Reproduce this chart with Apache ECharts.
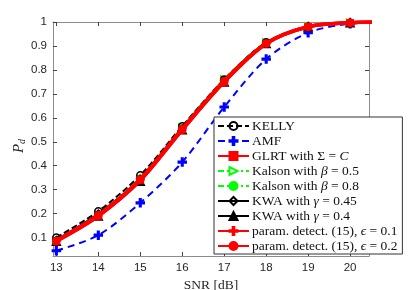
<!DOCTYPE html>
<html><head><meta charset="utf-8">
<script src="https://cdn.jsdelivr.net/npm/echarts@6/dist/echarts.min.js"></script>
<style>html,body{margin:0;padding:0;background:#fff}#c{width:409px;height:290px}</style>
</head><body><div id="c"></div>
<script>
var snr = [13, 14, 15, 16, 17, 18, 19, 20, 21];
var xTicks = [13, 14, 15, 16, 17, 18, 19, 20];
var yTicks = [0.1, 0.2, 0.3, 0.4, 0.5, 0.6, 0.7, 0.8, 0.9, 1];
var kelly   = [0.100, 0.210, 0.360, 0.565, 0.760, 0.915, 0.980, 0.997, 1.0];
var amf     = [0.045, 0.110, 0.245, 0.415, 0.645, 0.845, 0.955, 0.993, 1.0];
var glrt    = [0.085, 0.190, 0.340, 0.550, 0.750, 0.910, 0.980, 0.997, 1.0];
var kalson5 = [0.085, 0.195, 0.345, 0.560, 0.760, 0.915, 0.982, 0.997, 1.0];
var kalson8 = [0.085, 0.195, 0.350, 0.560, 0.760, 0.915, 0.982, 0.997, 1.0];
var kwa45   = [0.090, 0.200, 0.345, 0.555, 0.755, 0.910, 0.980, 0.997, 1.0];
var kwa4    = [0.085, 0.190, 0.335, 0.550, 0.750, 0.910, 0.980, 0.997, 1.0];
var param1  = [0.085, 0.190, 0.340, 0.550, 0.750, 0.910, 0.980, 0.997, 1.0];
var param2  = [0.088, 0.195, 0.345, 0.555, 0.755, 0.910, 0.980, 0.997, 1.0];
var names = ['KELLY', 'AMF', 'GLRT with Σ = C', 'Kalson with β = 0.5', 'Kalson with β = 0.8',
  'KWA with γ = 0.45', 'KWA with γ = 0.4', 'param. detect. (15), ϵ = 0.1', 'param. detect. (15), ϵ = 0.2'];

function pts(arr){ return snr.map(function(x,i){return [x, arr[i]];}); }
var plus = 'path://M4,0L6,0L6,4L10,4L10,6L6,6L6,10L4,10L4,6L0,6L0,4L4,4Z';
function ser(name, data, color, width, dash, symbol, size, fill, z, rot){
  return {
    name: name, type: 'line', data: pts(data), smooth: 0.3, clip: true, z: z,
    lineStyle: {color: color, width: width, type: dash},
    symbol: symbol, symbolSize: size, showSymbol: true, symbolRotate: rot || 0,
    itemStyle: {color: fill, borderColor: color, borderWidth: 1.5},
    emphasis: {disabled: true}
  };
}
var serif = '"Liberation Serif", "DejaVu Serif", serif';
var chart = echarts.init(document.getElementById('c'));
chart.setOption({
  animation: false,
  grid: {left: 53, top: 22, right: 40, bottom: 34, containLabel: false, outerBoundsMode: 'none'},
  graphic: [{
    type: 'text', x: 19, y: 146, rotation: Math.PI / 2,
    style: {
      text: '{i|P}{s|d}', align: 'center', verticalAlign: 'middle',
      rich: {
        i: {fontFamily: serif, fontStyle: 'italic', fontSize: 15, fill: '#262626', color: '#262626'},
        s: {fontFamily: serif, fontStyle: 'italic', fontSize: 10, fill: '#262626', color: '#262626', padding: [7, 0, 0, 0]}
      }
    }
  }],
  xAxis: [{
    type: 'value', min: 12.92, max: 20.45, position: 'bottom',
    axisLine: {show: true, lineStyle: {color: '#8c8c8c', width: 1}},
    axisTick: {show: true, inside: true, length: 4, customValues: xTicks, lineStyle: {color: '#444'}},
    axisLabel: {show: true, customValues: xTicks, color: '#262626', fontSize: 11.5, fontFamily: 'Liberation Sans, Arial, sans-serif', margin: 6},
    splitLine: {show: false},
    name: 'SNR [dB]', nameLocation: 'middle', nameGap: 20,
    nameTextStyle: {fontFamily: serif, fontSize: 13.5, color: '#262626'}
  }, {
    type: 'value', min: 12.92, max: 20.45, position: 'top',
    axisLine: {show: true, lineStyle: {color: '#8c8c8c', width: 1}},
    axisTick: {show: true, inside: true, length: 4, customValues: xTicks, lineStyle: {color: '#444'}},
    axisLabel: {show: false}, splitLine: {show: false}
  }],
  yAxis: [{
    type: 'value', min: 0.023, max: 1, position: 'left',
    axisLine: {show: true, lineStyle: {color: '#8c8c8c', width: 1}},
    axisTick: {show: true, inside: true, length: 4, customValues: yTicks, lineStyle: {color: '#444'}},
    axisLabel: {show: true, customValues: yTicks, color: '#262626', fontSize: 11.5, fontFamily: 'Liberation Sans, Arial, sans-serif', margin: 6,
      formatter: function(v){ return String(+v.toFixed(1)); }},
    splitLine: {show: false}
  }, {
    type: 'value', min: 0.023, max: 1, position: 'right',
    axisLine: {show: true, lineStyle: {color: '#8c8c8c', width: 1}},
    axisTick: {show: true, inside: true, length: 4, customValues: yTicks, lineStyle: {color: '#444'}},
    axisLabel: {show: false}, splitLine: {show: false}
  }],
  legend: {
    orient: 'vertical', left: 214, top: 117,
    backgroundColor: '#fff', borderColor: '#333', borderWidth: 1,
    padding: [2, 5, 1, 3], itemGap: 1, itemWidth: 31, itemHeight: 10,
    data: names,
    textStyle: {fontFamily: serif, fontSize: 13.5, color: '#111', padding: [0, 0, 0, -2],
      rich: {i: {fontFamily: serif, fontStyle: 'italic', fontSize: 13.5, color: '#111'}}},
    formatter: function(n){
      var m = {
        'GLRT with Σ = C': 'GLRT with Σ = {i|C}',
        'Kalson with β = 0.5': 'Kalson with {i|β} = 0.5',
        'Kalson with β = 0.8': 'Kalson with {i|β} = 0.8',
        'KWA with γ = 0.45': 'KWA with {i|γ} = 0.45',
        'KWA with γ = 0.4': 'KWA with {i|γ} = 0.4',
        'param. detect. (15), ϵ = 0.1': 'param. detect. (15), {i|ϵ} = 0.1',
        'param. detect. (15), ϵ = 0.2': 'param. detect. (15), {i|ϵ} = 0.2'
      };
      return m[n] || n;
    }
  },
  series: [
    ser(names[1], amf, '#0000ff', 2, [7, 5], plus, 8, '#0000ff', 2),
    ser(names[3], kalson5, '#00ff00', 2, [6, 3, 2, 3], 'triangle', 7, '#fff', 3, -90),
    ser(names[4], kalson8, '#00ff00', 2, [6, 3, 2, 3], 'circle', 5, '#00ff00', 3),
    ser(names[0], kelly, '#000', 2, [6, 3], 'circle', 7, 'none', 4),
    ser(names[5], kwa45, '#000', 2, 'solid', 'diamond', 7, 'none', 4),
    ser(names[6], kwa4, '#000', 2, 'solid', 'triangle', 8, '#000', 4),
    ser(names[2], glrt, '#ff0000', 3.5, 'solid', 'rect', 6, '#ff0000', 5),
    ser(names[7], param1, '#ff0000', 3.5, 'solid', plus, 7, '#ff0000', 5),
    ser(names[8], param2, '#ff0000', 3.5, 'solid', 'circle', 6, '#ff0000', 6)
  ]
});
</script></body></html>
